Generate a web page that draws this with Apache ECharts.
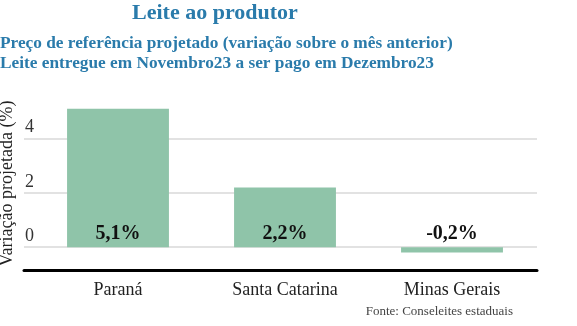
<!DOCTYPE html>
<html>
<head>
<meta charset="utf-8">
<script src="https://cdn.jsdelivr.net/npm/echarts@6/dist/echarts.min.js"></script>
<style>
html,body{margin:0;padding:0;background:#fff;}
#chart{width:577px;height:326px;}
</style>
</head>
<body>
<div id="chart"></div>
<script>
const categories = ['Paraná', 'Santa Catarina', 'Minas Gerais'];
const values = [5.1, 2.2, -0.2];
const yMin = -0.86;
const yMax = 5.55;

const titleText = 'Leite ao produtor';
const subtitleLines = [
  'Preço de referência projetado (variação sobre o mês anterior)',
  'Leite entregue em Novembro23 a ser pago em Dezembro23'
];
const yAxisName = 'Variação projetada (%)';
const sourceText = 'Fonte: Conseleites estaduais';

const serif = '"Liberation Serif", "DejaVu Serif", serif';
const blue = '#2a7bab';

const chart = echarts.init(document.getElementById('chart'), null, {renderer: 'canvas'});
chart.setOption({
  animation: false,
  backgroundColor: '#fff',
  title: [
    {text: titleText, left: 132, top: 2, padding: 0,
     textStyle: {fontFamily: serif, fontSize: 22, fontWeight: 'bold', color: blue}},
    {text: subtitleLines.join('\n'), left: 0, top: 34, padding: 0,
     textStyle: {fontFamily: serif, fontSize: 17.3, fontWeight: 'bold', color: blue, lineHeight: 19.5}},
    {text: sourceText, right: 64, top: 305, padding: 0,
     textStyle: {fontFamily: serif, fontSize: 13, fontWeight: 'normal', color: '#444'}}
  ],
  grid: [
    {left: 24, right: 40, top: 96.5, bottom: 55.5, containLabel: false, outerBoundsMode: 'none'},
    {left: 34.5, right: 41.5, top: 96.5, bottom: 55.5, containLabel: false, outerBoundsMode: 'none'}
  ],
  xAxis: [
    {gridIndex: 0, type: 'category', data: categories,
     axisLine: {show: true, onZero: false, lineStyle: {color: '#000', width: 3}},
     axisTick: {show: false}, axisLabel: {show: false}, splitLine: {show: false}},
    {gridIndex: 1, type: 'category', data: categories,
     axisLine: {show: false}, axisTick: {show: false},
     axisLabel: {fontFamily: serif, fontSize: 18, color: '#222', margin: 11}}
  ],
  yAxis: [
    {gridIndex: 0, type: 'value', min: yMin, max: yMax, splitNumber: 3,
     name: yAxisName, nameLocation: 'middle', nameGap: 8, nameMoveOverlap: false,
     nameTextStyle: {fontFamily: serif, fontSize: 18, color: '#222'},
     axisLine: {show: false}, axisTick: {show: false},
     splitLine: {show: true, showMinLine: false, showMaxLine: false, lineStyle: {color: '#d9d9d9', width: 1.5}},
     axisLabel: {inside: true, margin: 1, showMinLabel: false, showMaxLabel: false,
       verticalAlign: 'bottom', padding: [0, 0, 2, 0],
       fontFamily: serif, fontSize: 18, color: '#333'}},
    {gridIndex: 1, type: 'value', min: yMin, max: yMax, show: false}
  ],
  series: [
    {type: 'bar', xAxisIndex: 1, yAxisIndex: 1, barWidth: '61%',
     itemStyle: {color: '#8fc4a9'},
     data: values.map(v => ({value: v, label: {position: v >= 0 ? 'insideBottom' : 'top'}})),
     label: {show: true, distance: 3, fontFamily: serif, fontSize: 20, fontWeight: 'bold', color: '#111',
       formatter: p => String(p.value).replace('.', ',') + '%'}}
  ]
});
</script>
</body>
</html>
